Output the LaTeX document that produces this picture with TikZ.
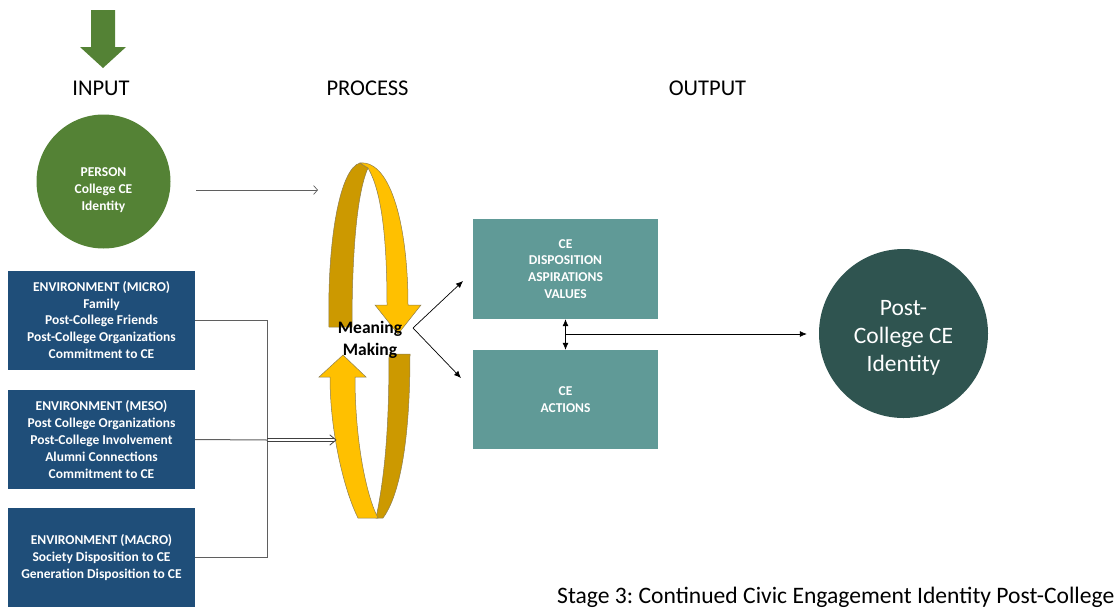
\documentclass[tikz,border=0pt]{standalone}
\usepackage{fontspec}
\setmainfont{Carlito}
\usetikzlibrary{arrows.meta}

\definecolor{ingreen}{RGB}{84,130,53}
\definecolor{envblue}{RGB}{31,78,121}
\definecolor{outteal}{RGB}{96,154,151}
\definecolor{postteal}{RGB}{47,84,80}
\definecolor{ribbonlight}{RGB}{255,192,0}
\definecolor{ribbondark}{RGB}{204,153,0}
\definecolor{ribbonedge}{RGB}{140,125,80}
\definecolor{connline}{RGB}{95,95,95}

\tikzset{
  hdr/.style={anchor=base, inner sep=0pt, font=\fontsize{22.5}{27}\selectfont},
  smalltext/.style={text=white, align=center, font=\bfseries\fontsize{13.5}{16.9}\selectfont},
  envbox/.style={smalltext, fill=envblue, minimum width=187pt, minimum height=99pt, inner sep=0pt},
  outbox/.style={smalltext, fill=outteal, minimum width=185pt, minimum height=100pt, inner sep=0pt},
  conn/.style={draw=connline, line width=1pt},
  dblline/.style={draw=black!75, line width=0.8pt},
  blkarrow/.style={draw=black, line width=0.7pt, -{Latex[length=7pt,width=6pt]}},
  ribbon/.style={draw=ribbonedge, line width=0.5pt},
}

\begin{document}
\frenchspacing
\begin{tikzpicture}[x=1pt,y=-1pt]
\useasboundingbox (0,0) rectangle (1120,611);

% column headings
\fill[ingreen] (91,10) -- (115,10) -- (115,47) -- (126,47) -- (103,68) -- (80,47) -- (91,47) -- cycle;
\node[hdr] (hin) at (101,95) {INPUT};
\node[hdr] (hproc) at (367.5,95) {PROCESS};
\node[hdr] (hout) at (707.5,95) {OUTPUT};

% input side
\node[circle, fill=ingreen, minimum size=134pt, inner sep=0pt] (person) at (103.5,181.5) {};
\node[smalltext, inner sep=0pt, yshift=-8.5pt] (personlbl) at (person.center) {PERSON\\College CE\\Identity};

\node[envbox] (micro) at (101.5,320) {ENVIRONMENT (MICRO)\\Family\\Post-College Friends\\Post-College Organizations\\Commitment to CE};
\node[envbox] (meso) at (101.5,439.5) {ENVIRONMENT (MESO)\\Post College Organizations\\Post-College Involvement\\Alumni Connections\\Commitment to CE};
\node[envbox] (macro) at (101.5,557.5) {ENVIRONMENT (MACRO)\\Society Disposition to CE\\Generation Disposition to CE};

% meaning-making loop: upper ribbon
\filldraw[ribbon, fill=ribbondark]
  (329,327) .. controls (327,240) and (340,168) .. (360,163)
  -- (368,168) .. controls (356,195) and (352,260) .. (352,327) -- cycle;
\filldraw[ribbon, fill=ribbonlight]
  (360,163) .. controls (392,160) and (408,230) .. (408,305)
  -- (421,305) -- (398,334) -- (375,305) -- (387,305)
  .. controls (387,235) and (381,190) .. (368,168) -- cycle;

% meaning-making loop: lower ribbon
\filldraw[ribbon, fill=ribbondark]
  (389,354) -- (410,354) .. controls (410,440) and (400,495) .. (383,518)
  -- (376,518) .. controls (386,470) and (389,420) .. (389,354) -- cycle;
\filldraw[ribbon, fill=ribbonlight]
  (343,355) -- (366,377) -- (355,377)
  .. controls (355,440) and (366,495) .. (378,518)
  -- (358,518) .. controls (344,490) and (330,432) .. (330,377)
  -- (319,377) -- cycle;

\node[font=\bfseries\fontsize{17.5}{22}\selectfont, align=center, inner sep=0pt] (mm) at (370,340) {Meaning\\Making};

% input connectors
\coordinate (pstart) at (196,190);
\coordinate (pend) at (318,190);
\draw[conn, line width=0.7pt, -{Straight Barb[length=4pt,width=9pt]}] (pstart) -- (pend);

\coordinate (jtop) at (267,320);
\coordinate (jmid) at (267,440);
\coordinate (jbot) at (267,557.5);
\coordinate (loopin) at (336,440);
\draw[conn] (micro.east) -- (jtop) -- (jbot) -- (macro.east);
\draw[conn] (meso.east) -- (jmid);
% double-line arrow into the loop
\draw[dblline] ([yshift=1.3pt]jmid) -- ([xshift=-2pt,yshift=1.3pt]loopin);
\draw[dblline] ([yshift=-1.3pt]jmid) -- ([xshift=-2pt,yshift=-1.3pt]loopin);
\draw[dblline, line cap=round, line join=round] ([xshift=-6pt,yshift=5pt]loopin) -- (loopin) -- ([xshift=-6pt,yshift=-5pt]loopin);

% output side
\node[outbox] (dispo) at (565.5,269) {CE\\DISPOSITION\\ASPIRATIONS\\VALUES};
\node[outbox, minimum height=99pt] (act) at (565.5,399.5) {CE\\ACTIONS};

\coordinate (apex) at (413,328);
\coordinate (toup) at (463,281);
\coordinate (todown) at (461,378);
\draw[blkarrow] (apex) -- (toup);
\draw[blkarrow] (apex) -- (todown);

\draw[draw=black, line width=0.7pt, {Latex[length=7pt,width=6pt]}-{Latex[length=7pt,width=6pt]}] (dispo.south) -- (act.north);

\node[circle, fill=postteal, minimum size=169pt, inner sep=0pt] (post) at (903.5,333.5) {};
\node[text=white, align=center, inner sep=0pt, yshift=-4pt,
      font=\fontsize{23.5}{28}\selectfont] (postlbl) at (post.center) {Post-\\College CE\\Identity};

\coordinate (mid) at (566,334);
\draw[blkarrow, shorten >=12pt] (mid) -- (post.west |- mid);

% caption
\node[anchor=base west, inner sep=0pt, font=\fontsize{23.6}{28}\selectfont] (caption) at (557,603) {Stage 3: Continued Civic Engagement Identity Post-College};
\end{tikzpicture}
\end{document}
